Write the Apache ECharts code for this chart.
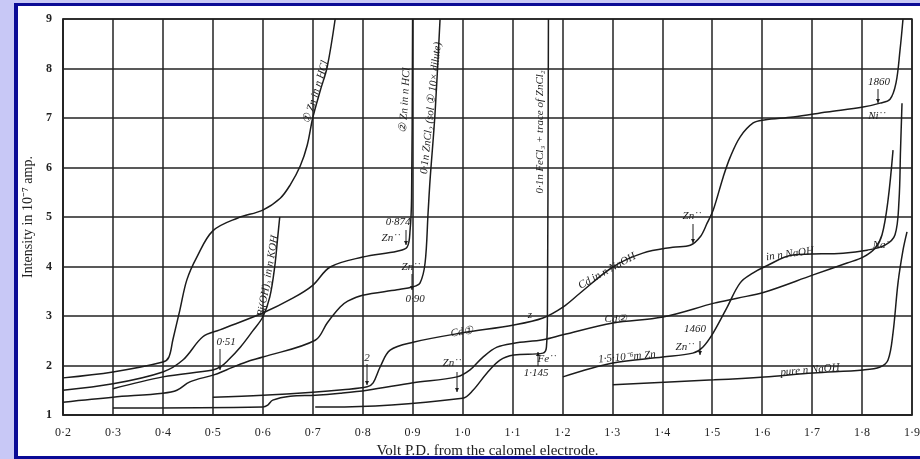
<!DOCTYPE html>
<html>
<head>
<meta charset="utf-8">
<script src="https://cdn.jsdelivr.net/npm/echarts@6/dist/echarts.min.js"></script>
<style>
    body { margin: 0; background: #c8c8f6; }
    #frame { position: absolute; left: 14px; top: 3px; width: 906px; height: 456px; box-sizing: border-box;
        background: #fff; border-left: 4px solid #0b0b96; border-top: 3px solid #0b0b96; border-bottom: 3px solid #0b0b96; }
    #chart { position: absolute; left: 0; top: 0; width: 920px; height: 459px; }
</style>
</head>
<body>
<div id="frame"></div>
<div id="chart"></div>
<script>
// axis ranges
var xMin = 0.2, xMax = 1.9, xStep = 0.1;
var yMin = 1, yMax = 9, yStep = 1;

// curves: [volt, intensity]
var znHcl1 = [[0.2,1.75],[0.3,1.87],[0.4,2.07],[0.412,2.17],[0.42,2.52],[0.434,3.12],[0.448,3.73],[0.468,4.19],
    [0.5,4.72],[0.55,4.98],[0.6,5.14],[0.635,5.38],[0.655,5.65],[0.675,6.03],[0.689,6.45],[0.7,7.0],[0.715,7.55],
    [0.729,8.03],[0.745,9.0]];
var znHcl2 = [[0.2,1.5],[0.3,1.63],[0.4,1.87],[0.44,2.11],[0.48,2.58],[0.514,2.72],[0.6,3.06],[0.66,3.36],
    [0.7,3.62],[0.735,3.99],[0.8,4.19],[0.869,4.31],[0.889,4.39],[0.895,4.74],[0.898,5.4],[0.9,9.0]];
var znCl2Dilute = [[0.2,1.26],[0.3,1.36],[0.4,1.44],[0.428,1.5],[0.454,1.67],[0.502,1.81],[0.527,1.91],[0.567,2.07],
    [0.6,2.17],[0.705,2.51],[0.729,2.86],[0.755,3.18],[0.77,3.3],[0.8,3.42],[0.869,3.53],[0.901,3.59],[0.915,3.67],
    [0.925,4.07],[0.931,5.08],[0.935,5.75],[0.945,7.1],[0.955,9.0]];
var biOH3 = [[0.3,1.53],[0.4,1.77],[0.5,1.91],[0.515,1.97],[0.53,2.1],[0.555,2.37],[0.58,2.7],[0.6,2.98],
    [0.614,3.38],[0.624,4.0],[0.63,4.6],[0.634,5.0]];
var cdNaOH = [[0.5,1.36],[0.6,1.4],[0.7,1.46],[0.76,1.51],[0.809,1.57],[0.821,1.65],[0.835,1.97],[0.855,2.31],
    [0.901,2.47],[1.0,2.66],[1.103,2.82],[1.161,2.96],[1.201,3.18],[1.235,3.46],[1.301,3.99],[1.361,4.27],
    [1.421,4.39],[1.456,4.43],[1.476,4.6],[1.49,4.88],[1.502,5.14],[1.522,5.81],[1.536,6.21],[1.556,6.62],
    [1.582,6.9],[1.604,6.96],[1.662,7.02],[1.73,7.12],[1.802,7.22],[1.836,7.3],[1.856,7.38],[1.868,7.71],
    [1.876,8.37],[1.882,9.0]];
var cd2 = [[0.3,1.14],[0.6,1.16],[0.61,1.2],[0.62,1.3],[0.655,1.38],[0.705,1.4],[0.755,1.44],[0.809,1.5],
    [0.901,1.65],[0.989,1.77],[1.015,1.91],[1.041,2.17],[1.069,2.37],[1.103,2.45],[1.161,2.52],[1.201,2.62],
    [1.301,2.86],[1.401,2.98],[1.504,3.26],[1.55,3.36],[1.604,3.48],[1.702,3.83],[1.77,4.07],[1.802,4.19],
    [1.826,4.37],[1.84,4.64],[1.852,5.34],[1.862,6.35]];
var znNaOH = [[1.201,1.77],[1.301,2.05],[1.401,2.17],[1.461,2.25],[1.481,2.37],[1.502,2.66],[1.53,3.18],
    [1.556,3.67],[1.582,3.87],[1.604,3.99],[1.662,4.23],[1.762,4.27],[1.81,4.33],[1.846,4.43],[1.866,4.64],
    [1.874,5.34],[1.877,6.35],[1.88,7.3]];
var pureNaOH = [[1.301,1.61],[1.504,1.71],[1.604,1.77],[1.702,1.85],[1.802,1.91],[1.836,1.97],[1.852,2.11],
    [1.862,2.66],[1.872,3.67],[1.882,4.33],[1.89,4.7]];
var feCl3 = [[0.705,1.16],[0.735,1.16],[1.0,1.34],[1.021,1.5],[1.049,1.85],[1.075,2.11],[1.103,2.21],
    [1.161,2.25],[1.168,2.37],[1.17,3.06],[1.172,9.0]];

var ink = '#1c1c1c';
var hand = 'italic 11px "Liberation Serif", serif';

function curve(data) {
    return {
        type: 'line', data: data, showSymbol: false, smooth: 0.35,
        silent: true, lineStyle: { color: ink, width: 1.5 }
    };
}
//注释文字
function note(text, x, y, rot, font) {
    return {
        type: 'text', x: x, y: y, rotation: (rot || 0) * Math.PI / 180,
        style: { text: text, font: font || hand, fill: ink, align: 'center', verticalAlign: 'middle' }
    };
}
//向下/向上的小箭头
function arrow(x, y1, y2) {
    var d = y2 > y1 ? -4 : 4;
    return {
        type: 'group', children: [
            { type: 'line', shape: { x1: x, y1: y1, x2: x, y2: y2 }, style: { stroke: ink, lineWidth: 1 } },
            { type: 'polygon', shape: { points: [[x - 2, y2 + d], [x + 2, y2 + d], [x, y2]] }, style: { fill: ink } }
        ]
    };
}

var chart = echarts.init(document.getElementById('chart'));
chart.setOption({
    animation: false,
    backgroundColor: 'transparent',
    grid: { left: 63, right: 8, top: 19, bottom: 44, outerBoundsMode: 'none',
        show: true, borderColor: '#222', borderWidth: 1.5 },
    xAxis: {
        type: 'value', min: xMin, max: xMax, interval: xStep,
        name: 'Volt P.D. from the calomel electrode.', nameLocation: 'middle', nameGap: 28,
        nameTextStyle: { fontFamily: '"Liberation Serif", serif', fontSize: 15, color: '#222' },
        axisLine: { lineStyle: { color: '#222', width: 1.5 } },
        axisTick: { show: false },
        axisLabel: {
            margin: 12, color: '#222', fontFamily: '"Liberation Serif", serif', fontSize: 12,
            formatter: function (v) { return v.toFixed(1).replace('.', '·'); }
        },
        splitLine: { lineStyle: { color: '#222', width: 1.5 } }
    },
    yAxis: {
        type: 'value', min: yMin, max: yMax, interval: yStep,
        name: 'Intensity in 10⁻⁷ amp.', nameLocation: 'middle', nameGap: 25,
        nameTextStyle: { fontFamily: '"Liberation Serif", serif', fontSize: 14, color: '#222' },
        axisLine: { lineStyle: { color: '#222', width: 1.5 } },
        axisTick: { show: false },
        axisLabel: { margin: 11, color: '#222', fontFamily: '"Liberation Serif", serif', fontSize: 12, fontWeight: 'bold' },
        splitLine: { lineStyle: { color: '#222', width: 1.5 } }
    },
    series: [znHcl1, znHcl2, znCl2Dilute, biOH3, cdNaOH, cd2, znNaOH, pureNaOH, feCl3].map(curve),
    graphic: [
        note('① Zn in n HCl', 316, 92, 73),
        note('② Zn in n HCl', 405, 100, 87),
        note('0·1n ZnCl₂ (sol ① 10× dilute)', 431, 108, 84),
        note('0·1n FeCl₃ + trace of ZnCl₂', 540, 132, 90),
        note('Bi(OH)₃ in n KOH', 268, 276, 80),
        note('0·874', 398, 222), note('Zn˙˙', 391, 238), arrow(406, 230, 245),
        note('Zn˙˙', 411, 267), arrow(412, 274, 290), note('0·90', 415, 299),
        note('Cd①', 462, 332, 10),
        note('2', 367, 358), arrow(367, 364, 385),
        note('z', 530, 315),
        note('Zn˙˙', 452, 363), arrow(457, 372, 392),
        note('Fe˙˙', 547, 359), arrow(538, 366, 352), note('1·145', 536, 373),
        note('0·51', 226, 342), arrow(220, 349, 370),
        note('Cd in n NaOH', 607, 271, 29),
        note('Zn˙˙', 692, 216), arrow(693, 224, 243),
        note('1860', 879, 82), arrow(878, 89, 103), note('Ni˙˙', 877, 116),
        note('in n NaOH', 790, 254, 8),
        note('Na˙', 881, 245),
        note('Cd②', 616, 319),
        note('1460', 695, 329), note('Zn˙˙', 685, 347), arrow(700, 341, 355),
        note('1·5·10⁻⁶m Zn', 627, 357, 5),
        note('pure n NaOH', 810, 370, 5)
    ]
});
</script>
</body>
</html>
